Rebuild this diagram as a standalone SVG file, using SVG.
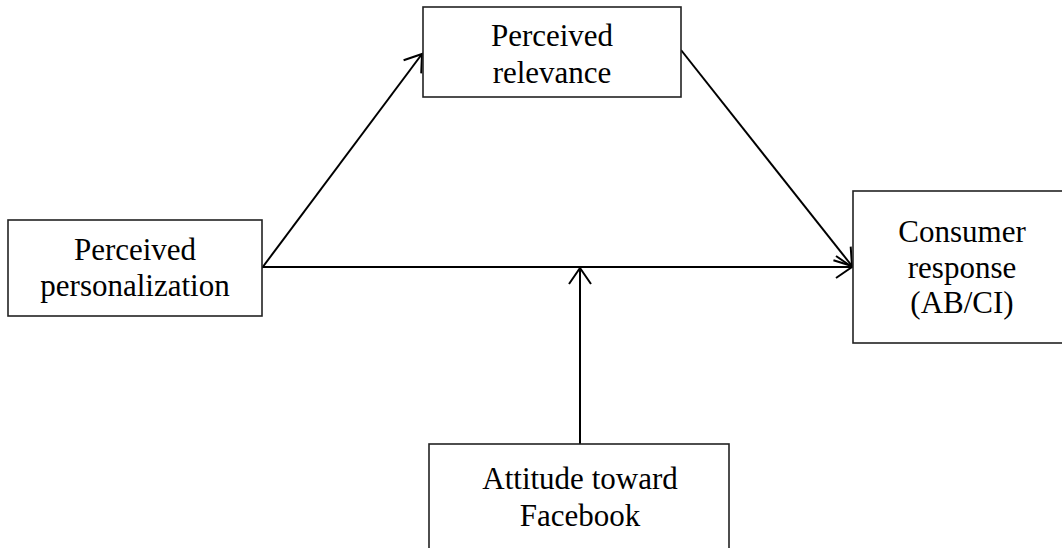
<svg xmlns="http://www.w3.org/2000/svg" width="1062" height="548" viewBox="0 0 1062 548">
<defs>
<style>
.box{fill:#fff;stroke:#222;stroke-width:1.6}
.lbl{font-family:"Liberation Serif","Times New Roman",serif;font-size:31px;fill:#000;text-anchor:middle}
.conn{stroke:#000;stroke-width:2;fill:none}
</style>
<marker id="arr" viewBox="0 0 20 26" refX="18" refY="13" markerWidth="20" markerHeight="26" markerUnits="userSpaceOnUse" orient="auto">
<path d="M2,2 L18,13 L2,24" fill="none" stroke="#000" stroke-width="2"/>
</marker>
</defs>
<rect width="1062" height="548" fill="#fff"/>
<g id="connectors">
<line class="conn" x1="262" y1="268" x2="422" y2="54" marker-end="url(#arr)"/>
<line class="conn" x1="681" y1="50" x2="852" y2="266" marker-end="url(#arr)"/>
<line class="conn" x1="262" y1="267" x2="852" y2="267" marker-end="url(#arr)"/>
<line class="conn" x1="580" y1="444" x2="580" y2="268" marker-end="url(#arr)"/>
</g>
<g id="personalization">
<rect class="box" x="8" y="220" width="254" height="96"/>
<text class="lbl" x="135" y="260">Perceived</text>
<text class="lbl" x="135" y="296">personalization</text>
</g>
<g id="relevance">
<rect class="box" x="423" y="7" width="258" height="90"/>
<text class="lbl" x="552" y="46">Perceived</text>
<text class="lbl" x="552" y="83">relevance</text>
</g>
<g id="consumer">
<rect class="box" x="853" y="191" width="220" height="152"/>
<text class="lbl" x="962" y="242">Consumer</text>
<text class="lbl" x="962" y="278">response</text>
<text class="lbl" x="962" y="313">(AB/CI)</text>
</g>
<g id="attitude">
<rect class="box" x="429" y="444" width="300" height="120"/>
<text class="lbl" x="580" y="489">Attitude toward</text>
<text class="lbl" x="580" y="526">Facebook</text>
</g>
</svg>
